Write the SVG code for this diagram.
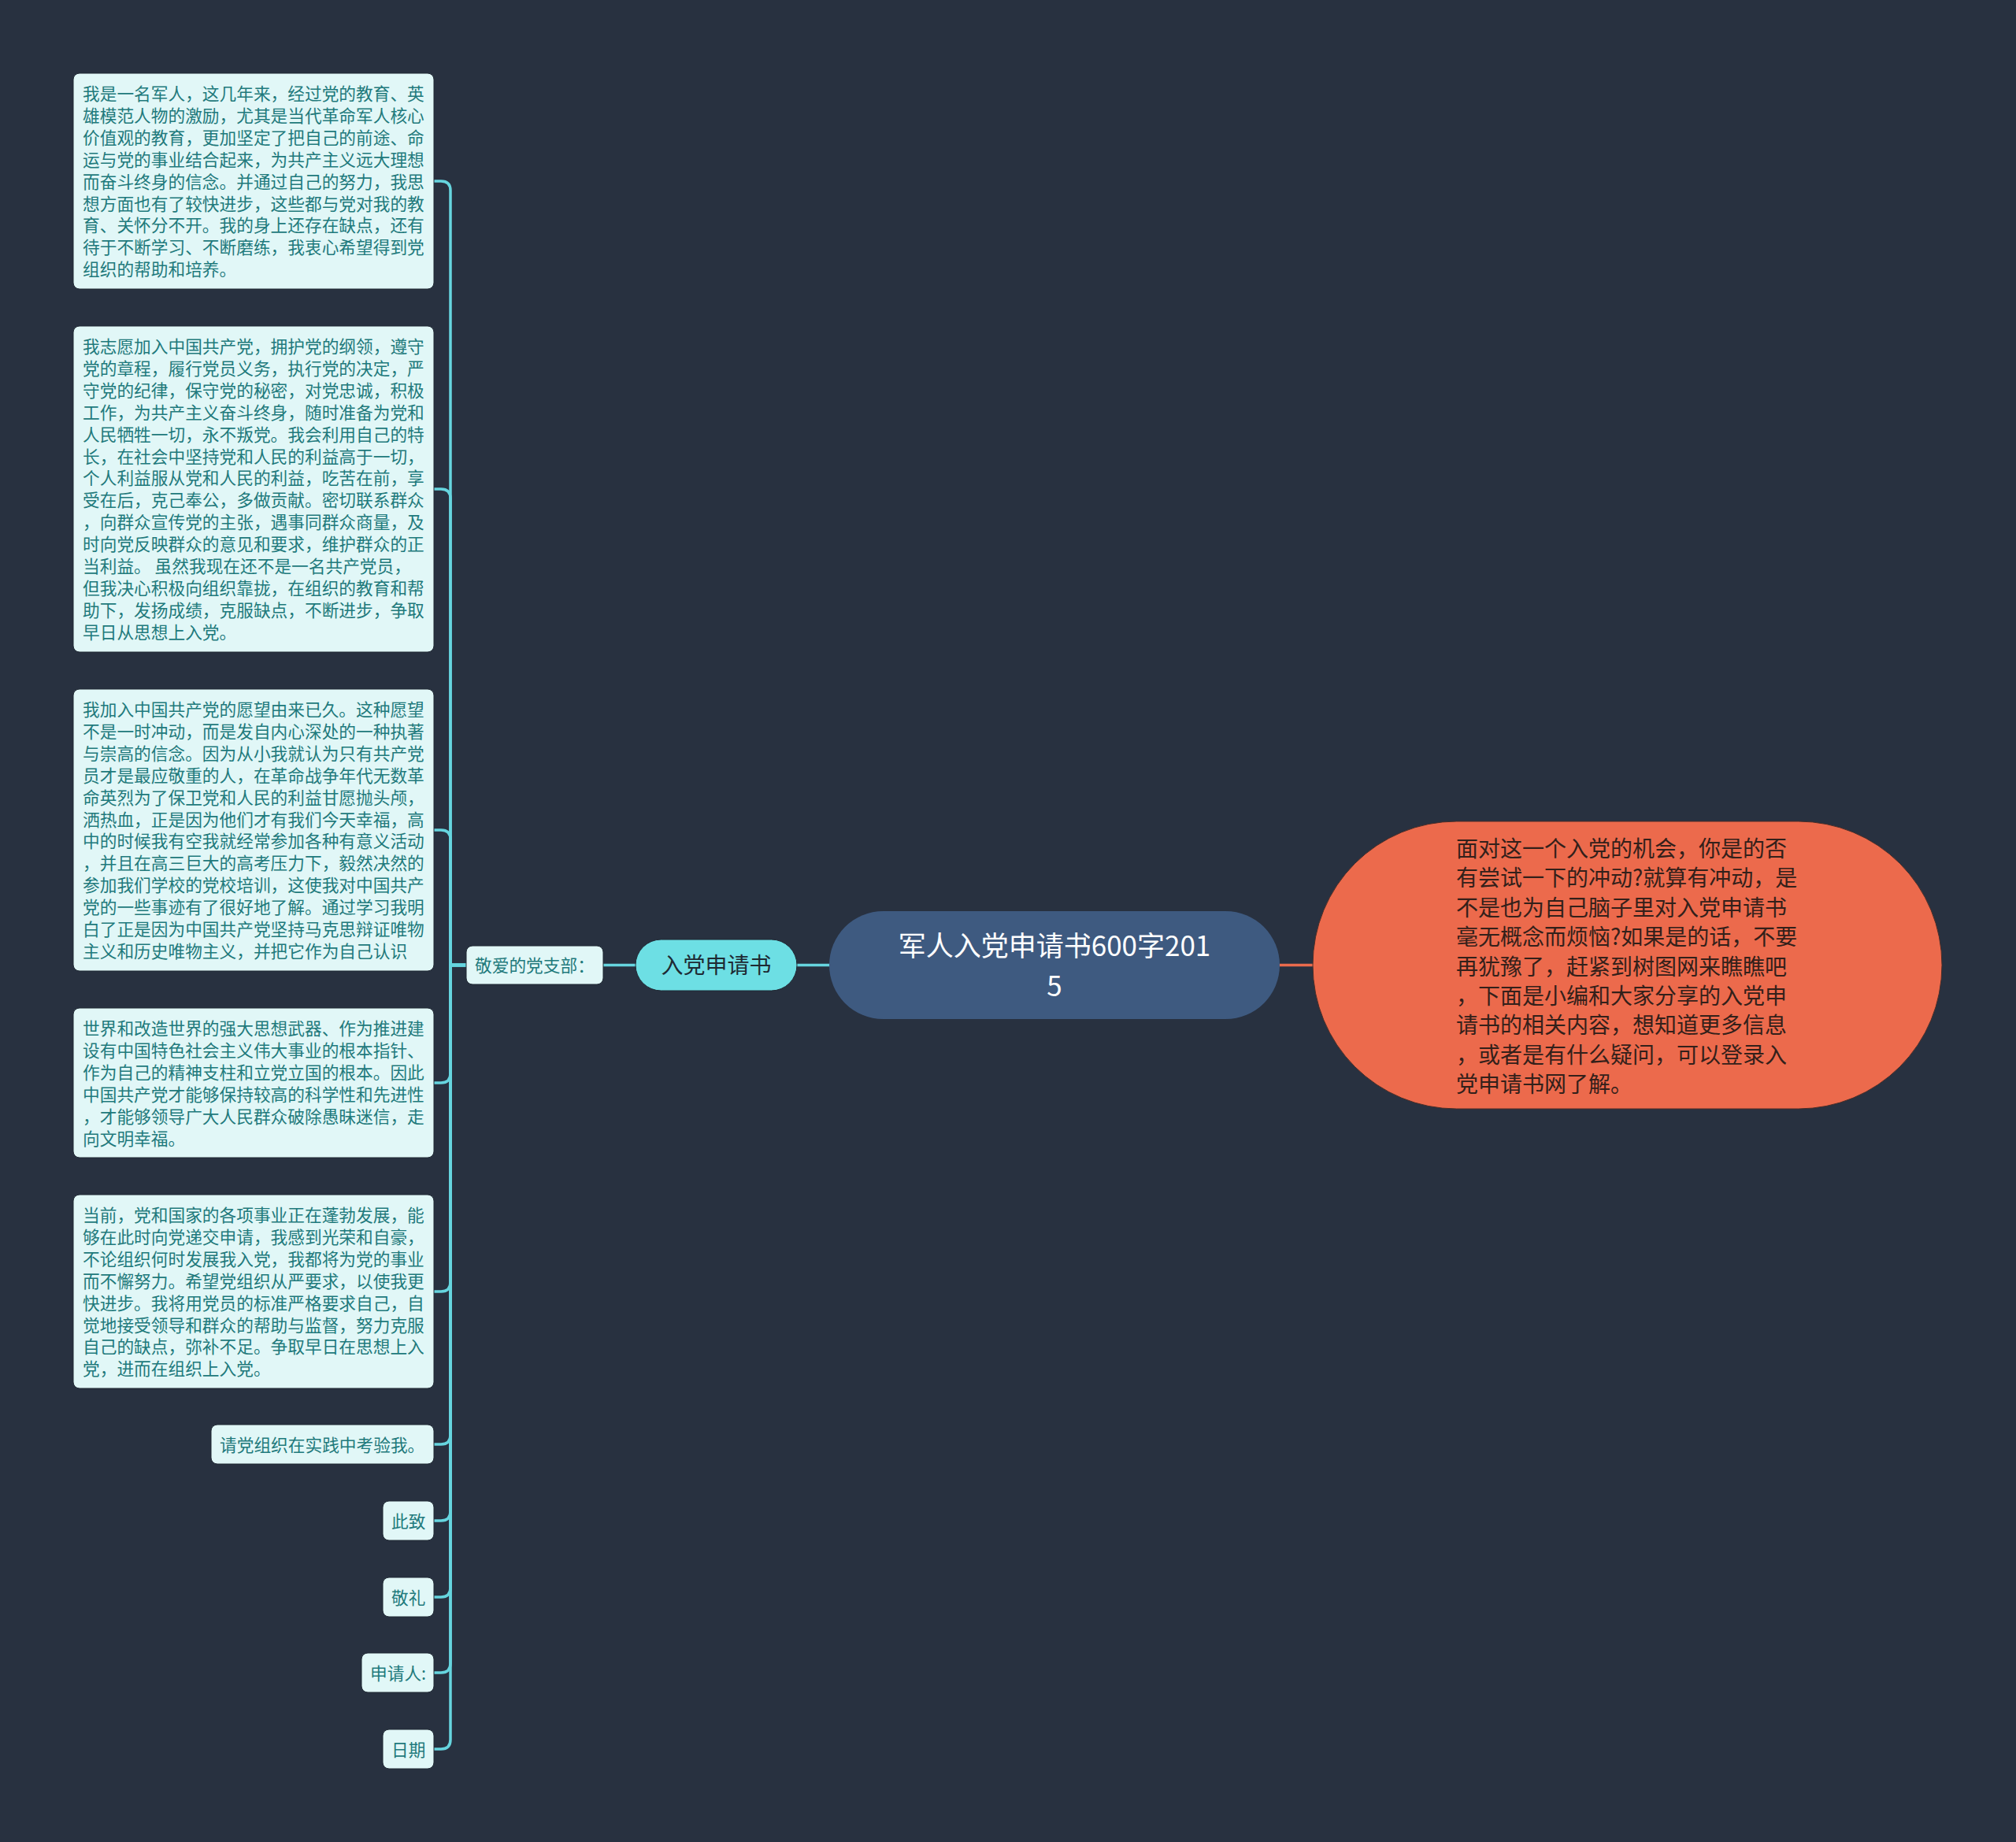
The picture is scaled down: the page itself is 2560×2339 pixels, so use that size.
<svg xmlns="http://www.w3.org/2000/svg" width="2560" height="2339" viewBox="0 0 2560 2339">
<style>
.bg{fill:#283140}
.box{fill:#e1f7f7;stroke:#1f2833;stroke-width:1}
.bt{font-family:"Noto Sans CJK SC","Liberation Sans",sans-serif;font-size:21.7px;fill:#1f7a7c}
.lk{fill:none;stroke:#66d5df;stroke-width:3.5}
.lko{fill:none;stroke:#ea6b4d;stroke-width:3.5}
.pill{fill:#6ddfe4;stroke:#1f2833;stroke-width:1}
.pt{font-family:"Noto Sans CJK SC","Liberation Sans",sans-serif;font-size:28px;fill:#1e2a33;text-anchor:middle}
.ct{font-family:"Noto Sans CJK SC","Liberation Sans",sans-serif;font-size:35px;fill:#ffffff;text-anchor:middle}
.ot{font-family:"Noto Sans CJK SC","Liberation Sans",sans-serif;font-size:28px;fill:#33201a}
</style>
<rect class="bg" x="0" y="0" width="2560" height="2339"/>
<g id="connectors">
<path class="lk" d="M551 230 H560 Q572 230 572 242 V1225.5 H592"/>
<path class="lk" d="M551 621 H560 Q572 621 572 633 V1225.5 H592"/>
<path class="lk" d="M551 1054 H560 Q572 1054 572 1066 V1225.5 H592"/>
<path class="lk" d="M551 1375 H560 Q572 1375 572 1363 V1225.5 H592"/>
<path class="lk" d="M551 1640 H560 Q572 1640 572 1628 V1225.5 H592"/>
<path class="lk" d="M551 1834 H560 Q572 1834 572 1822 V1225.5 H592"/>
<path class="lk" d="M551 1931 H560 Q572 1931 572 1919 V1225.5 H592"/>
<path class="lk" d="M551 2028 H560 Q572 2028 572 2016 V1225.5 H592"/>
<path class="lk" d="M551 2124 H560 Q572 2124 572 2112 V1225.5 H592"/>
<path class="lk" d="M551 2221 H560 Q572 2221 572 2209 V1225.5 H592"/>
<path class="lk" d="M766 1225.5 H808"/>
<path class="lk" d="M1011 1225.5 H1054"/>
<path class="lko" d="M1624 1225.5 H1668"/>
</g>
<g id="root">
<rect x="1053" y="1157" width="572" height="137" rx="68.5" fill="#3e5a80"/>
<text class="ct" x="1339" y="1214"><tspan x="1339" y="1214">军人入党申请书600字201</tspan><tspan x="1339" y="1265">5</tspan></text>
</g>
<g id="n-intro">
<rect x="1667" y="1043" width="799" height="365" rx="182.5" fill="#ec6a4c" stroke="#4a2d28" stroke-width="1"/>
<text class="ot" x="1849" y="1088">
<tspan x="1849" y="1088">面对这一个入党的机会，你是的否</tspan>
<tspan x="1849" dy="37.4">有尝试一下的冲动?就算有冲动，是</tspan>
<tspan x="1849" dy="37.4">不是也为自己脑子里对入党申请书</tspan>
<tspan x="1849" dy="37.4">毫无概念而烦恼?如果是的话，不要</tspan>
<tspan x="1849" dy="37.4">再犹豫了，赶紧到树图网来瞧瞧吧</tspan>
<tspan x="1849" dy="37.4">，下面是小编和大家分享的入党申</tspan>
<tspan x="1849" dy="37.4">请书的相关内容，想知道更多信息</tspan>
<tspan x="1849" dy="37.4">，或者是有什么疑问，可以登录入</tspan>
<tspan x="1849" dy="37.4">党申请书网了解。</tspan>
</text>
</g>
<g id="n-rdsqs">
<rect class="pill" x="807" y="1193" width="205" height="65" rx="32.5"/>
<text class="pt" x="909.5" y="1236">入党申请书</text>
</g>
<g id="n-jadzb">
<rect class="box" x="592" y="1201" width="174" height="49" rx="8"/>
<text class="bt" x="603" y="1234">敬爱的党支部：</text>
</g>
<g id="n-p1">
<rect class="box" x="93" y="93" width="458" height="274" rx="8"/>
<text class="bt" x="105" y="127">
<tspan x="105" y="127">我是一名军人，这几年来，经过党的教育、英</tspan>
<tspan x="105" dy="27.9">雄模范人物的激励，尤其是当代革命军人核心</tspan>
<tspan x="105" dy="27.9">价值观的教育，更加坚定了把自己的前途、命</tspan>
<tspan x="105" dy="27.9">运与党的事业结合起来，为共产主义远大理想</tspan>
<tspan x="105" dy="27.9">而奋斗终身的信念。并通过自己的努力，我思</tspan>
<tspan x="105" dy="27.9">想方面也有了较快进步，这些都与党对我的教</tspan>
<tspan x="105" dy="27.9">育、关怀分不开。我的身上还存在缺点，还有</tspan>
<tspan x="105" dy="27.9">待于不断学习、不断磨练，我衷心希望得到党</tspan>
<tspan x="105" dy="27.9">组织的帮助和培养。</tspan>
</text>
</g>
<g id="n-p2">
<rect class="box" x="93" y="414" width="458" height="414" rx="8"/>
<text class="bt" x="105" y="448">
<tspan x="105" y="448">我志愿加入中国共产党，拥护党的纲领，遵守</tspan>
<tspan x="105" dy="27.9">党的章程，履行党员义务，执行党的决定，严</tspan>
<tspan x="105" dy="27.9">守党的纪律，保守党的秘密，对党忠诚，积极</tspan>
<tspan x="105" dy="27.9">工作，为共产主义奋斗终身，随时准备为党和</tspan>
<tspan x="105" dy="27.9">人民牺牲一切，永不叛党。我会利用自己的特</tspan>
<tspan x="105" dy="27.9">长，在社会中坚持党和人民的利益高于一切，</tspan>
<tspan x="105" dy="27.9">个人利益服从党和人民的利益，吃苦在前，享</tspan>
<tspan x="105" dy="27.9">受在后，克己奉公，多做贡献。密切联系群众</tspan>
<tspan x="105" dy="27.9">，向群众宣传党的主张，遇事同群众商量，及</tspan>
<tspan x="105" dy="27.9">时向党反映群众的意见和要求，维护群众的正</tspan>
<tspan x="105" dy="27.9">当利益。 虽然我现在还不是一名共产党员，</tspan>
<tspan x="105" dy="27.9">但我决心积极向组织靠拢，在组织的教育和帮</tspan>
<tspan x="105" dy="27.9">助下，发扬成绩，克服缺点，不断进步，争取</tspan>
<tspan x="105" dy="27.9">早日从思想上入党。</tspan>
</text>
</g>
<g id="n-p3">
<rect class="box" x="93" y="875" width="458" height="358" rx="8"/>
<text class="bt" x="105" y="909">
<tspan x="105" y="909">我加入中国共产党的愿望由来已久。这种愿望</tspan>
<tspan x="105" dy="27.9">不是一时冲动，而是发自内心深处的一种执著</tspan>
<tspan x="105" dy="27.9">与崇高的信念。因为从小我就认为只有共产党</tspan>
<tspan x="105" dy="27.9">员才是最应敬重的人，在革命战争年代无数革</tspan>
<tspan x="105" dy="27.9">命英烈为了保卫党和人民的利益甘愿抛头颅，</tspan>
<tspan x="105" dy="27.9">洒热血，正是因为他们才有我们今天幸福，高</tspan>
<tspan x="105" dy="27.9">中的时候我有空我就经常参加各种有意义活动</tspan>
<tspan x="105" dy="27.9">，并且在高三巨大的高考压力下，毅然决然的</tspan>
<tspan x="105" dy="27.9">参加我们学校的党校培训，这使我对中国共产</tspan>
<tspan x="105" dy="27.9">党的一些事迹有了很好地了解。通过学习我明</tspan>
<tspan x="105" dy="27.9">白了正是因为中国共产党坚持马克思辩证唯物</tspan>
<tspan x="105" dy="27.9">主义和历史唯物主义，并把它作为自己认识</tspan>
</text>
</g>
<g id="n-p4">
<rect class="box" x="93" y="1280" width="458" height="190" rx="8"/>
<text class="bt" x="105" y="1314">
<tspan x="105" y="1314">世界和改造世界的强大思想武器、作为推进建</tspan>
<tspan x="105" dy="27.9">设有中国特色社会主义伟大事业的根本指针、</tspan>
<tspan x="105" dy="27.9">作为自己的精神支柱和立党立国的根本。因此</tspan>
<tspan x="105" dy="27.9">中国共产党才能够保持较高的科学性和先进性</tspan>
<tspan x="105" dy="27.9">，才能够领导广大人民群众破除愚昧迷信，走</tspan>
<tspan x="105" dy="27.9">向文明幸福。</tspan>
</text>
</g>
<g id="n-p5">
<rect class="box" x="93" y="1517" width="458" height="246" rx="8"/>
<text class="bt" x="105" y="1551">
<tspan x="105" y="1551">当前，党和国家的各项事业正在蓬勃发展，能</tspan>
<tspan x="105" dy="27.9">够在此时向党递交申请，我感到光荣和自豪，</tspan>
<tspan x="105" dy="27.9">不论组织何时发展我入党，我都将为党的事业</tspan>
<tspan x="105" dy="27.9">而不懈努力。希望党组织从严要求，以使我更</tspan>
<tspan x="105" dy="27.9">快进步。我将用党员的标准严格要求自己，自</tspan>
<tspan x="105" dy="27.9">觉地接受领导和群众的帮助与监督，努力克服</tspan>
<tspan x="105" dy="27.9">自己的缺点，弥补不足。争取早日在思想上入</tspan>
<tspan x="105" dy="27.9">党，进而在组织上入党。</tspan>
</text>
</g>
<g id="n-kaoyan">
<rect class="box" x="268" y="1809" width="283" height="50" rx="8"/>
<text class="bt" x="279" y="1843">请党组织在实践中考验我。</text>
</g>
<g id="n-cizhi">
<rect class="box" x="486" y="1906" width="65" height="50" rx="8"/>
<text class="bt" x="497" y="1940">此致</text>
</g>
<g id="n-jingli">
<rect class="box" x="486" y="2003" width="65" height="50" rx="8"/>
<text class="bt" x="497" y="2037">敬礼</text>
</g>
<g id="n-sqr">
<rect class="box" x="459" y="2099" width="92" height="50" rx="8"/>
<text class="bt" x="470" y="2133">申请人:</text>
</g>
<g id="n-rq">
<rect class="box" x="486" y="2196" width="65" height="50" rx="8"/>
<text class="bt" x="497" y="2230">日期</text>
</g>
</svg>
